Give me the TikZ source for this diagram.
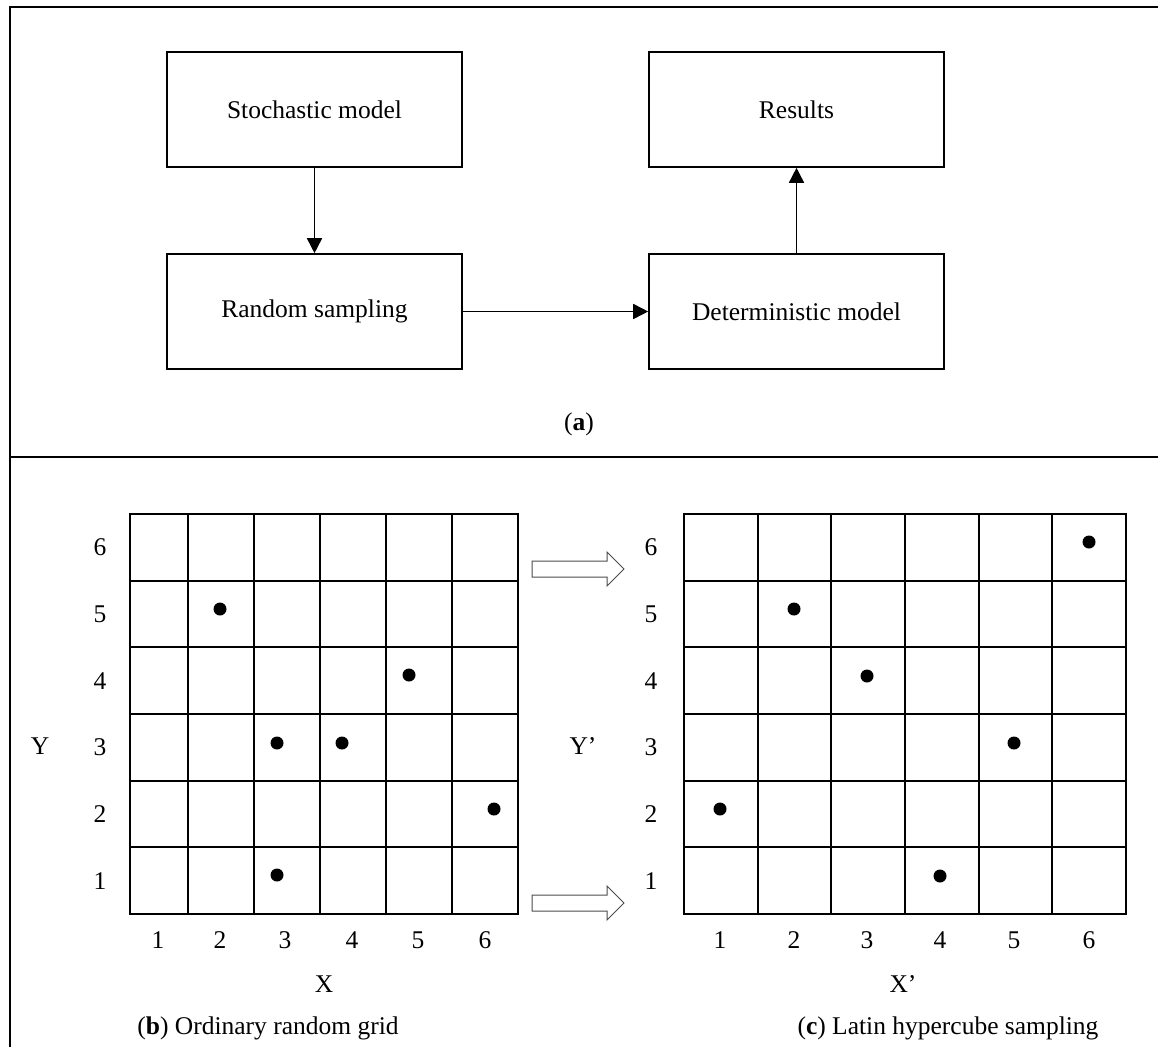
\documentclass[tikz,border=0pt]{standalone}
\usepackage{fontspec}
\setmainfont{Liberation Serif}
\usetikzlibrary{arrows.meta}
\tikzset{
  box/.style={draw, line width=1.6pt, minimum width=295pt, minimum height=115pt, inner sep=0pt},
  conn/.style={line width=1.6pt, -{Triangle[length=15pt,width=15pt]}},
  gridline/.style={line width=2pt, line cap=rect},
  frame/.style={line width=2.2pt},
  dot/.style={fill=black},
  lbl/.style={inner sep=0pt, anchor=center},
  hollow/.style={draw=black!70, line width=1pt, fill=white, line join=miter},
}
\begin{document}
\begin{tikzpicture}[x=1pt, y=-1pt, font=\fontsize{25.5}{30}\selectfont]
\useasboundingbox (0,0) rectangle (1158,1047);
% frame
\draw[frame] (1158,7) -- (10,7) -- (10,1047);
\draw[frame] (10,457) -- (1158,457);
% flowchart
\node[box] (sto) at (314.5,109.5) {Stochastic model};
\node[box] (ran) at (314.5,311.5) {Random sampling};
\node[box] (res) at (796.5,109.5) {Results};
\node[box] (det) at (796.5,311.5) {Deterministic model};
\draw[conn] (sto) -- (ran);
\draw[conn] (ran) -- (det);
\draw[conn] (det) -- (res);
\node[lbl] (capa) at (579,424) {(\textbf{a})};
% left grid
\foreach \x in {130,188,254,320,386,452,518} \draw[gridline] (\x,514) -- (\x,914);
\foreach \i in {0,...,6} \draw[gridline] (130,514+\i*66.667) -- (518,514+\i*66.667);
\foreach \p in {(220,609),(409,675),(277,743),(342,743),(494,809),(277,875)} \fill[dot] \p circle (6.5);
\foreach \n in {1,...,6} \node[lbl] at (100,880.7-\n*66.667+66.667) {\n};
\foreach \n/\x in {1/158,2/220,3/285,4/352,5/418,6/485} \node[lbl] at (\x,940) {\n};
\node[lbl] (ly) at (40,746) {Y};
\node[lbl] (lx) at (324,984) {X};
\node[lbl] (capb) at (268,1028) {(\textbf{b}) Ordinary random grid};
% right grid
\foreach \i in {0,...,6} \draw[gridline] (684+\i*73.667,514) -- (684+\i*73.667,914);
\foreach \i in {0,...,6} \draw[gridline] (684,514+\i*66.667) -- (1126,514+\i*66.667);
\foreach \p in {(1089,542),(794,609),(867,676),(1014,743),(720,809),(940,876)} \fill[dot] \p circle (6.5);
\foreach \n in {1,...,6} \node[lbl] at (651,880.7-\n*66.667+66.667) {\n};
\foreach \n/\x in {1/720,2/794,3/867,4/940,5/1014,6/1089} \node[lbl] at (\x,940) {\n};
\node[lbl] (ry) at (583,746) {Y’};
\node[lbl] (rx) at (903,984) {X’};
\node[lbl] (capc) at (948,1028) {(\textbf{c}) Latin hypercube sampling};
% hollow arrows
\draw[hollow] (532,561) -- (607,561) -- (607,552) -- (624,569) -- (607,586) -- (607,577) -- (532,577) -- cycle;
\draw[hollow] (532,895) -- (607,895) -- (607,886) -- (624,903) -- (607,920) -- (607,911) -- (532,911) -- cycle;
\end{tikzpicture}
\end{document}
